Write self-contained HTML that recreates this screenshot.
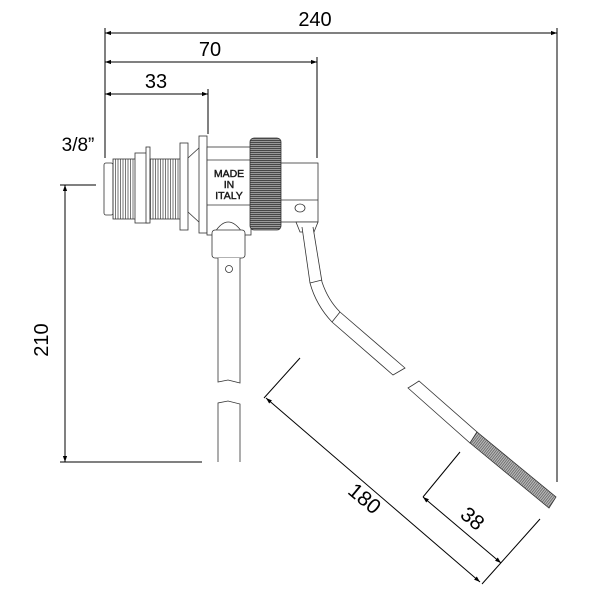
<!DOCTYPE html>
<html><head><style>
html,body{margin:0;padding:0;background:#fff;}
svg{display:block}
text{font-family:"Liberation Sans",sans-serif;fill:#000}
</style></head><body>
<svg width="600" height="600" viewBox="0 0 600 600" xmlns="http://www.w3.org/2000/svg">
<defs>
<marker id="a" viewBox="0 0 10 10" refX="10" refY="5" markerWidth="9" markerHeight="6" orient="auto-start-reverse"><path d="M0,1.5 L10,5 L0,8.5z" fill="#000"/></marker>
<pattern id="th" width="2.5" height="4" patternUnits="userSpaceOnUse"><rect width="2.5" height="4" fill="#fff"/><rect width="1" height="4" fill="#777"/></pattern>
<pattern id="kn" width="4" height="2" patternUnits="userSpaceOnUse"><rect width="4" height="2" fill="#999"/><rect width="4" height="0.8" fill="#333"/></pattern>
<pattern id="rt" width="2" height="2" patternUnits="userSpaceOnUse" patternTransform="rotate(38)"><rect width="2" height="2" fill="#bbb"/><rect width="0.7" height="2" fill="#555"/></pattern>
</defs>
<g stroke="#000" stroke-width="1" fill="none">
<line x1="105" y1="28" x2="105" y2="158"/>
<line x1="557" y1="28" x2="557" y2="482"/>
<line x1="317" y1="57" x2="317" y2="158"/>
<line x1="208" y1="89" x2="208" y2="134"/>
<line x1="105" y1="33" x2="557" y2="33" marker-start="url(#a)" marker-end="url(#a)"/>
<line x1="105" y1="62" x2="317" y2="62" marker-start="url(#a)" marker-end="url(#a)"/>
<line x1="105" y1="94" x2="208" y2="94" marker-start="url(#a)" marker-end="url(#a)"/>
<line x1="60" y1="185" x2="96" y2="185"/>
<line x1="60" y1="462" x2="202" y2="462"/>
<line x1="65" y1="185" x2="65" y2="462" marker-start="url(#a)" marker-end="url(#a)"/>
<line x1="264" y1="398" x2="300" y2="358"/>
<line x1="482" y1="584" x2="540" y2="519"/>
<line x1="266" y1="398" x2="480" y2="582" marker-start="url(#a)" marker-end="url(#a)"/>
<line x1="423" y1="497" x2="460" y2="452"/>
<line x1="423" y1="497" x2="501" y2="563" marker-start="url(#a)" marker-end="url(#a)"/>
</g>
<text x="315" y="26" font-size="20" text-anchor="middle">240</text>
<text x="210" y="56" font-size="20" text-anchor="middle">70</text>
<text x="156" y="88" font-size="20" text-anchor="middle">33</text>
<text x="78" y="151" font-size="19" text-anchor="middle">3/8”</text>
<text transform="translate(48,340) rotate(-90)" font-size="20" text-anchor="middle">210</text>
<text transform="translate(360,504) rotate(40)" font-size="21" text-anchor="middle">180</text>
<text transform="translate(468,524) rotate(40)" font-size="21" text-anchor="middle">38</text>
<g stroke="#333" stroke-width="0.8">
<rect x="104" y="163" width="9" height="52" fill="#fff" rx="2"/>
<rect x="113" y="159" width="23" height="60" fill="url(#th)"/>
<rect x="135" y="153" width="13" height="70" fill="#fff"/>
<rect x="146" y="147" width="4" height="76" fill="#fff"/>
<rect x="150" y="159" width="31" height="60" fill="url(#th)"/>
<rect x="180" y="143" width="8" height="87" fill="#fff"/>
<path d="M188,158 L200,147 L200,223 L188,212z" fill="#fff"/>
<rect x="199" y="136" width="8" height="97" fill="#fff"/>
<rect x="207" y="147" width="44" height="88" fill="#fff"/>
<line x1="207" y1="160" x2="251" y2="160"/>
<line x1="207" y1="205" x2="251" y2="205"/>
<rect x="250" y="138" width="31" height="92" rx="4" fill="url(#kn)"/>
<rect x="281" y="163" width="37" height="59" fill="#fff"/>
<line x1="281" y1="200" x2="318" y2="200"/>
<ellipse cx="300" cy="208" rx="5" ry="4" fill="#fff"/>
<path d="M215,232 Q228,212 242,232" fill="#fff"/>
<rect x="212" y="230" width="33" height="28" rx="3" fill="#fff"/>
<path d="M218,258 L218,382 L228,380 L240,383 L240,258" fill="#fff"/>
<circle cx="229" cy="269" r="3.5" fill="#fff"/>
<path d="M218,462 L218,403 L228,401 L240,404 L240,462" fill="#fff"/>
<path d="M296,222 L318,222 L314,232 L300,232z" fill="#fff"/>
<path d="M302,227 L310,283 Q316,305 332,322 L393,375 L405,368 L340,312 Q328,300 322,282 L313,227" fill="#fff"/>
<line x1="310" y1="283" x2="322" y2="280"/>
<line x1="332" y1="322" x2="340" y2="312"/>
<path d="M408,388 L470,443 L477,432 L419,381 Q413,385 408,388z" fill="#fff"/>
<path d="M470,443 L549,508 L556,497 L477,432z" fill="url(#rt)"/>
</g>
<text x="229" y="177" font-size="10.5" text-anchor="middle" fill="#fff" stroke="#333" stroke-width="0.5">MADE</text>
<text x="229" y="188" font-size="10.5" text-anchor="middle" fill="#fff" stroke="#333" stroke-width="0.5">IN</text>
<text x="229" y="199" font-size="10.5" text-anchor="middle" fill="#fff" stroke="#333" stroke-width="0.5">ITALY</text>
</svg>
</body></html>
